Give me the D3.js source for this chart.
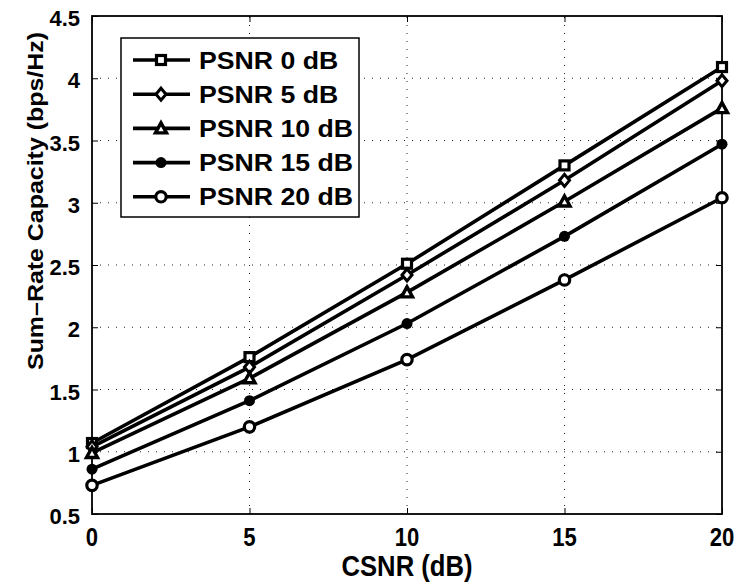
<!DOCTYPE html>
<html>
<head>
<meta charset="utf-8">
<script src="https://cdn.jsdelivr.net/npm/d3@7"></script>
<style>
  body { margin: 0; background: #fff; }
  text { font-family: "Liberation Sans", Arial, sans-serif; font-weight: bold; fill: #000; }
</style>
</head>
<body>
<svg id="chart" width="741" height="585"></svg>
<script>
// data
var csnr = [0, 5, 10, 15, 20];
var psnr0  = [1.07, 1.76, 2.51, 3.30, 4.09];
var psnr5  = [1.04, 1.68, 2.42, 3.18, 3.98];
var psnr10 = [0.99, 1.59, 2.28, 3.01, 3.76];
var psnr15 = [0.86, 1.41, 2.03, 2.73, 3.47];
var psnr20 = [0.73, 1.20, 1.74, 2.38, 3.04];
var seriesNames = ["PSNR 0 dB", "PSNR 5 dB", "PSNR 10 dB", "PSNR 15 dB", "PSNR 20 dB"];
var markerKinds = ["square", "diamond", "triangle", "dot", "circle"];
var xTicks = [0, 5, 10, 15, 20];
var yTicks = [0.5, 1, 1.5, 2, 2.5, 3, 3.5, 4, 4.5];

var series = [psnr0, psnr5, psnr10, psnr15, psnr20].map(function(v, i) {
  return { name: seriesNames[i], marker: markerKinds[i], values: v };
});

var svg = d3.select("#chart");
// plot box (window.top is reserved, so use other names)
var pLeft = 92, pRight = 722, pTop = 16, pBottom = 514;

var x = d3.scaleLinear().domain([0, 20]).range([pLeft, pRight]);
var y = d3.scaleLinear().domain([0.5, 4.5]).range([pBottom, pTop]);

// grid (dotted)
var grid = svg.append("g").attr("stroke", "#222").attr("stroke-width", 1).attr("stroke-dasharray", "1,7");
grid.selectAll(".gx").data(xTicks.slice(1, -1)).enter().append("line")
  .attr("x1", function(d){ return x(d); }).attr("x2", function(d){ return x(d); })
  .attr("y1", pBottom).attr("y2", pTop);
grid.selectAll(".gy").data(yTicks.slice(1, -1)).enter().append("line")
  .attr("y1", function(d){ return y(d); }).attr("y2", function(d){ return y(d); })
  .attr("x1", pLeft).attr("x2", pRight);

// axes with inward ticks on all four sides
function noLabels(ax) { return ax.tickSizeOuter(0).tickFormat(""); }
svg.append("g").attr("transform", "translate(0," + pBottom + ")")
  .call(noLabels(d3.axisTop(x).tickValues(xTicks).tickSizeInner(6)));
svg.append("g").attr("transform", "translate(0," + pTop + ")")
  .call(noLabels(d3.axisBottom(x).tickValues(xTicks).tickSizeInner(6)));
svg.append("g").attr("transform", "translate(" + pLeft + ",0)")
  .call(noLabels(d3.axisRight(y).tickValues(yTicks).tickSizeInner(6)));
svg.append("g").attr("transform", "translate(" + pRight + ",0)")
  .call(noLabels(d3.axisLeft(y).tickValues(yTicks).tickSizeInner(6)));
svg.selectAll(".domain").remove();
svg.selectAll(".tick line").attr("stroke", "#000").attr("stroke-width", 1);

svg.append("rect").attr("x", pLeft).attr("y", pTop)
  .attr("width", pRight - pLeft).attr("height", pBottom - pTop)
  .attr("fill", "none").attr("stroke", "#000").attr("stroke-width", 1.8);

// tick labels
svg.selectAll(".xl").data(xTicks).enter().append("text")
  .attr("transform", function(d){ return "translate(" + x(d) + ",546) scale(0.92,1.1)"; })
  .attr("text-anchor", "middle").attr("font-size", 24)
  .text(function(d){ return d; });
svg.selectAll(".yl").data(yTicks).enter().append("text")
  .attr("x", 80).attr("y", function(d){ return y(d) + 10; })
  .attr("text-anchor", "end").attr("font-size", 22)
  .text(function(d){ return d; });

// axis titles
svg.append("text").attr("transform", "translate(407,576) scale(0.95,1.08)").attr("text-anchor", "middle")
  .attr("font-size", 27).text("CSNR (dB)");
svg.append("text").attr("transform", "translate(43,201) rotate(-90)")
  .attr("text-anchor", "middle").attr("font-size", 22)
  .attr("textLength", 338).attr("lengthAdjust", "spacingAndGlyphs")
  .text("Sum\u2013Rate Capacity (bps/Hz)");

// markers
function drawMarker(g, kind) {
  if (kind === "square") {
    g.append("rect").attr("x", -4.5).attr("y", -4.5).attr("width", 9).attr("height", 9)
      .attr("fill", "#fff").attr("stroke", "#000").attr("stroke-width", 3.2);
  } else if (kind === "diamond") {
    g.append("path").attr("d", "M0,-6L5,0L0,6L-5,0Z")
      .attr("fill", "#fff").attr("stroke", "#000").attr("stroke-width", 3);
  } else if (kind === "triangle") {
    g.append("path").attr("d", "M0,-5.5L5.5,4.5L-5.5,4.5Z")
      .attr("fill", "#fff").attr("stroke", "#000").attr("stroke-width", 3.4).attr("stroke-linejoin", "miter");
  } else if (kind === "dot") {
    g.append("circle").attr("r", 5.5).attr("fill", "#000");
  } else {
    g.append("circle").attr("r", 5.2)
      .attr("fill", "#fff").attr("stroke", "#000").attr("stroke-width", 3.2);
  }
}

var line = d3.line()
  .x(function(d, i){ return x(csnr[i]); })
  .y(function(d){ return y(d); });

var sg = svg.selectAll(".series").data(series).enter().append("g");
sg.append("path")
  .attr("d", function(d){ return line(d.values); })
  .attr("fill", "none").attr("stroke", "#000").attr("stroke-width", 3.6);
sg.each(function(s) {
  var g = d3.select(this);
  s.values.forEach(function(v, i) {
    drawMarker(g.append("g").attr("transform", "translate(" + x(csnr[i]) + "," + y(v) + ")"), s.marker);
  });
});

// legend
var legend = svg.append("g");
legend.append("rect").attr("x", 121).attr("y", 38).attr("width", 238).attr("height", 179)
  .attr("fill", "#fff").attr("stroke", "#000").attr("stroke-width", 1.5);
series.forEach(function(s, i) {
  var ly = 60 + i * 34.2;
  legend.append("line").attr("x1", 133).attr("x2", 190).attr("y1", ly).attr("y2", ly)
    .attr("stroke", "#000").attr("stroke-width", 3.6);
  drawMarker(legend.append("g").attr("transform", "translate(161," + ly + ")"), s.marker);
  legend.append("text").attr("transform", "translate(199," + (ly + 8.5) + ") scale(1.16,1)")
    .attr("font-size", 23).text(s.name);
});
</script>
</body>
</html>
